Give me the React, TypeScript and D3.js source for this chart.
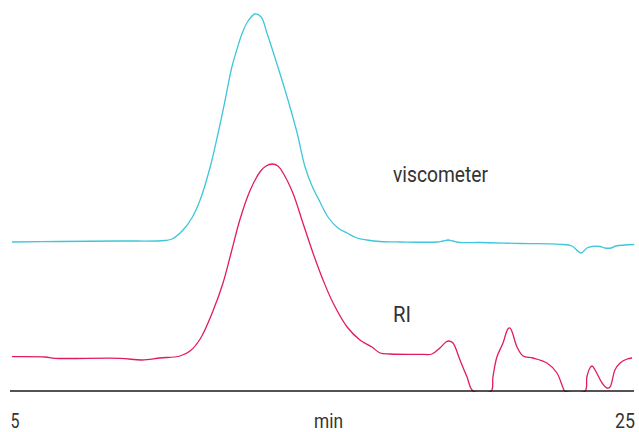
import React from "react";
import * as d3 from "d3";

const W = 639;
const H = 432;

// viscometer trace: time (min) and signal (arbitrary units)
const viscTime = [4.9, 6.48, 8.44, 9.92, 10.15, 10.51, 10.8, 11.07, 11.39, 11.66, 11.89, 12.11, 12.28, 12.44, 12.64, 12.87, 13.07, 13.26, 13.62, 13.95, 14.25, 14.51, 14.74, 15.0, 15.26, 15.59, 15.89, 16.21, 16.54, 16.97, 17.62, 18.84, 19.03, 19.2, 19.36, 19.59, 20.25, 21.56, 22.87, 23.26, 23.56, 23.75, 23.92, 24.18, 24.34, 24.54, 24.7, 25.3];
const viscSignal = [149, 149.5, 150, 150.5, 152, 161, 173, 191, 223, 258, 291, 324, 342, 357, 370, 377, 374, 358, 324, 291, 258, 224, 205, 189, 174, 163, 158, 153, 151, 149.5, 149, 149, 150, 151, 150, 148.5, 148.5, 147.5, 146.7, 145, 138, 143, 144.5, 144.5, 143, 143, 145, 146.5];

// refractive index trace
const riTime = [4.9, 5.98, 6.31, 8.44, 9.16, 9.75, 10.41, 10.74, 11.07, 11.49, 11.82, 12.11, 12.38, 12.7, 13.03, 13.23, 13.43, 13.62, 13.79, 14.11, 14.44, 14.77, 15.1, 15.43, 15.89, 16.31, 16.7, 16.97, 17.3, 18.28, 18.67, 18.93, 19.13, 19.23, 19.36, 19.59, 19.82, 20.02, 20.61, 20.67, 20.8, 21.0, 21.16, 21.23, 21.3, 21.46, 21.66, 21.98, 22.44, 22.77, 22.97, 23.03, 23.69, 23.75, 23.85, 23.92, 24.02, 24.25, 24.41, 24.51, 24.67, 24.84, 25.07, 25.23];
const riSignal = [34.3, 34, 32.7, 32.7, 31, 33, 35, 40, 52, 80, 108, 141, 172, 200, 219, 225, 227, 225, 218, 198, 168, 138, 111, 88, 64, 51, 44, 38, 37, 36.7, 37, 43, 49, 50, 48, 31, 14, 0, 0, 14, 34, 48, 62, 63, 59, 44, 35, 33, 28, 18, 3, 0, 0, 14, 23, 25, 21, 8, 3, 4, 21, 28, 32, 33];

const axisTicks = [5, 25];
const axisTitle = "min";
const axisTitleAt = 15.28;
const seriesLabels = ["viscometer", "RI"];

export default function App() {
  const x = d3.scaleLinear().domain([5, 25]).range([15, 625]);
  const y = d3.scaleLinear().domain([0, 380]).range([391, 11]);

  const line = d3
    .line<[number, number]>()
    .x((d) => x(d[0]))
    .y((d) => Math.min(y(d[1]), y(0)))
    .curve(d3.curveCatmullRom.alpha(0.5));

  const viscPts = viscTime.map((t, i) => [t, viscSignal[i]] as [number, number]);
  const riPts = riTime.map((t, i) => [t, riSignal[i]] as [number, number]);

  const font = "Roboto, 'Liberation Sans', sans-serif";
  const fs = 21;

  return (
    <svg
      width={W}
      height={H}
      style={{ position: "absolute", left: 0, top: 0, background: "#fff" }}
    >
      <defs>
        <clipPath id="plotClip">
          <rect x={0} y={0} width={W} height={y(0) + 1} />
        </clipPath>
      </defs>
      <g clipPath="url(#plotClip)">
        <path d={line(viscPts) || ""} fill="none" stroke="#3ec6da" strokeWidth={1.3} />
        <path d={line(riPts) || ""} fill="none" stroke="#e21c5c" strokeWidth={1.3} />
      </g>
      <line x1={10} x2={634} y1={y(0)} y2={y(0)} stroke="#1a1a1a" strokeWidth={1.3} />
      <text x={x(axisTicks[0])} y={428} textAnchor="middle" fontFamily={font} fontSize={fs} fill="#333" textLength={9} lengthAdjust="spacingAndGlyphs">
        {String(axisTicks[0])}
      </text>
      <text x={x(axisTicks[1])} y={428} textAnchor="middle" fontFamily={font} fontSize={fs} fill="#333" textLength={20} lengthAdjust="spacingAndGlyphs">
        {String(axisTicks[1])}
      </text>
      <text x={x(axisTitleAt)} y={428} textAnchor="middle" fontFamily={font} fontSize={fs} fill="#333" textLength={29} lengthAdjust="spacingAndGlyphs">
        {axisTitle}
      </text>
      <text x={393} y={182} fontFamily={font} fontSize={22} fill="#333" textLength={95} lengthAdjust="spacingAndGlyphs">
        {seriesLabels[0]}
      </text>
      <text x={393} y={322} fontFamily={font} fontSize={22} fill="#333" textLength={18} lengthAdjust="spacingAndGlyphs">
        {seriesLabels[1]}
      </text>
    </svg>
  );
}
